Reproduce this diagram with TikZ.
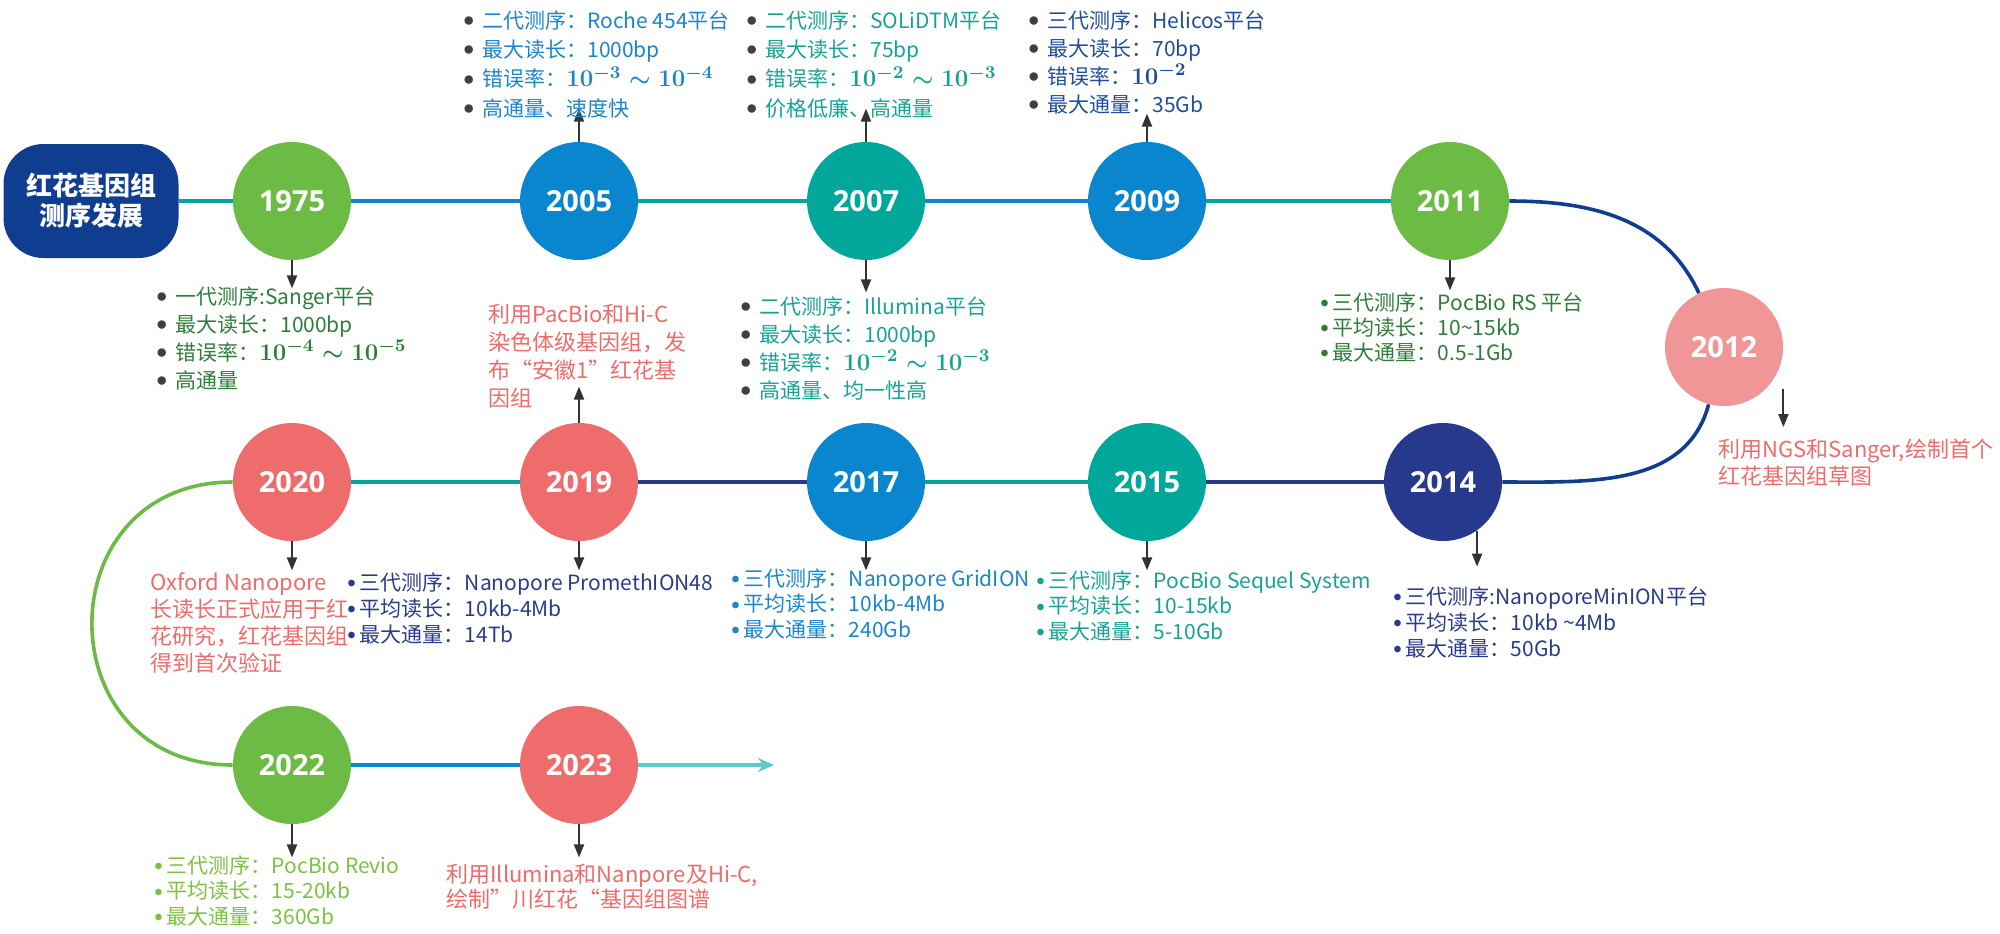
\documentclass[tikz,border=0pt]{standalone}
\usepackage[no-math]{fontspec}
\setmainfont{Noto Sans CJK SC}
\newfontfamily\yrfont{Open Sans}
\usepackage{xcolor}
\usetikzlibrary{arrows.meta,positioning}

% circle fills
\definecolor{lgreen}{HTML}{6CBB45}
\definecolor{sky}{HTML}{0A86CF}
\definecolor{seag}{HTML}{00A79A}
\definecolor{salmon}{HTML}{EE6C6C}
\definecolor{pinky}{HTML}{F19696}
\definecolor{navyb}{HTML}{26398C}
\definecolor{titleb}{HTML}{0F3E91}
\definecolor{lcyan}{HTML}{5CCACB}
% text colours
\definecolor{tgreen}{HTML}{2E7D3A}
\definecolor{tblue}{HTML}{1B86C8}
\definecolor{tteal}{HTML}{17A394}
\definecolor{tdblue}{HTML}{1F4E9B}
\definecolor{tnavy}{HTML}{2A3B8A}
\definecolor{tred}{HTML}{EE6B6B}
\definecolor{tlgreen}{HTML}{7DC142}

\newcommand{\bk}{\textcolor{black!75}{\raisebox{0.9pt}{$\bullet$}}\hspace{4pt}}
\newcommand{\bc}{\raisebox{1.2pt}{\fontsize{8.5}{8.5}\selectfont$\bullet$}\hspace{2pt}}
\newcommand{\er}[1]{{\fontsize{12.5}{14}\selectfont\boldmath$#1$}}

\begin{document}
\begin{tikzpicture}[x=0.5pt, y=-0.5pt,
  yr/.style={circle, minimum size=59pt, inner sep=0pt, text=white, font=\fontsize{14.5}{16}\yrfont\bfseries},
  ln/.style={line width=1.8pt},
  ar/.style={-{Triangle[length=6.5pt,width=5pt]}, line width=1pt, black!80},
  lst/.style={anchor=north west, align=left, inner sep=0pt, font=\fontsize{10.5}{14}\selectfont},
  rtx/.style={anchor=north west, align=left, inner sep=0pt, text=tred, font=\fontsize{11}{14}\selectfont}
]
\useasboundingbox (0,0) rectangle (2000,933);

\node[rounded corners=20pt, fill=titleb, minimum width=87.5pt, minimum height=57pt, text=white,
      align=center, font=\fontsize{13}{15}\selectfont\bfseries] (title) at (91,201) {红花基因组\\测序发展};

% year circles
\node[yr, fill=lgreen] (c1975) at (292,201) {1975};
\node[yr, fill=sky] (c2005) at (579,201) {2005};
\node[yr, fill=seag] (c2007) at (866,201) {2007};
\node[yr, fill=sky] (c2009) at (1147,201) {2009};
\node[yr, fill=lgreen] (c2011) at (1450,201) {2011};
\node[yr, fill=pinky] (c2012) at (1724,347) {2012};
\node[yr, fill=navyb] (c2014) at (1443,482) {2014};
\node[yr, fill=seag] (c2015) at (1147,482) {2015};
\node[yr, fill=sky] (c2017) at (866,482) {2017};
\node[yr, fill=salmon] (c2019) at (579,482) {2019};
\node[yr, fill=salmon] (c2020) at (292,482) {2020};
\node[yr, fill=lgreen] (c2022) at (292,765) {2022};
\node[yr, fill=salmon] (c2023) at (579,765) {2023};
\coordinate (tail) at (774,765);

% timeline
\draw[ln, seag] (title) -- (c1975);
\draw[ln, sky] (c1975) -- (c2005);
\draw[ln, seag] (c2005) -- (c2007);
\draw[ln, sky] (c2007) -- (c2009);
\draw[ln, seag] (c2009) -- (c2011);
\draw[ln, titleb] (c2011) to[out=0, in=115] (c2012);
\draw[ln, titleb] (c2012) to[out=-105, in=0] (c2014);
\draw[ln, navyb] (c2014) -- (c2015);
\draw[ln, seag] (c2015) -- (c2017);
\draw[ln, navyb] (c2017) -- (c2019);
\draw[ln, seag] (c2019) -- (c2020);
\draw[ln, lgreen] (c2020) to[out=180, in=180, looseness=1.7] (c2022);
\draw[ln, sky] (c2022) -- (c2023);
\draw[ln, lcyan, -{Stealth[length=8pt,width=7pt]}] (c2023) -- (tail);

% pointers
\coordinate[below=14pt of c1975] (d1975);
\coordinate[above=16.5pt of c2005] (u2005);
\coordinate[above=16.5pt of c2007] (u2007);
\coordinate[below=16pt of c2007] (d2007);
\coordinate[above=14pt of c2009] (u2009);
\coordinate[below=15pt of c2011] (d2011);
\coordinate (s2012) at ([yshift=-21pt]c2012.east);
\coordinate (d2012) at ([yshift=-40pt]c2012.east);
\coordinate (d2014) at ([yshift=-18pt]c2014.-55);
\coordinate[below=14.5pt of c2015] (d2015);
\coordinate[below=14.5pt of c2017] (d2017);
\coordinate[above=18pt of c2019] (u2019);
\coordinate[below=14.5pt of c2019] (d2019);
\coordinate[below=14.5pt of c2020] (d2020);
\coordinate[below=16.5pt of c2022] (d2022);
\coordinate[below=16.5pt of c2023] (d2023);
\draw[ar] (c1975) -- (d1975);
\draw[ar] (c2005) -- (u2005);
\draw[ar] (c2007) -- (u2007);
\draw[ar] (c2007) -- (d2007);
\draw[ar] (c2009) -- (u2009);
\draw[ar] (c2011) -- (d2011);
\draw[ar] (s2012) -- (d2012);
\draw[ar] (c2014.-55) -- (d2014);
\draw[ar] (c2015) -- (d2015);
\draw[ar] (c2017) -- (d2017);
\draw[ar] (c2019) -- (u2019);
\draw[ar] (c2019) -- (d2019);
\draw[ar] (c2020) -- (d2020);
\draw[ar] (c2022) -- (d2022);
\draw[ar] (c2023) -- (d2023);

% notes
\node[lst, text=tgreen] (t1975) at (156,286) {\bk 一代测序:Sanger平台\\\bk 最大读长：1000bp\\\bk 错误率：\er{10^{-4}\sim10^{-5}}\\\bk 高通量};
\node[lst, text=tblue, font=\fontsize{10.5}{14.7}\selectfont] (t2005) at (463,10) {\bk 二代测序：Roche 454平台\\\bk 最大读长：1000bp\\\bk 错误率：\er{10^{-3}\sim10^{-4}}\\\bk 高通量、速度快};
\node[lst, text=tteal, font=\fontsize{10.5}{14.7}\selectfont] (t2007a) at (746,10) {\bk 二代测序：SOLiDTM平台\\\bk 最大读长：75bp\\\bk 错误率：\er{10^{-2}\sim10^{-3}}\\\bk 价格低廉、高通量};
\node[lst, text=tdblue] (t2009) at (1028,10) {\bk 三代测序：Helicos平台\\\bk 最大读长：70bp\\\bk 错误率：\er{10^{-2}}\\\bk 最大通量：35Gb};
\node[lst, text=tteal] (t2007b) at (740,296) {\bk 二代测序：Illumina平台\\\bk 最大读长：1000bp\\\bk 错误率：\er{10^{-2}\sim10^{-3}}\\\bk 高通量、均一性高};
\node[rtx] (r2019) at (488,304) {利用PacBio和Hi-C\\染色体级基因组，发\\布“安徽1”红花基\\因组};
\node[lst, text=tgreen, font=\fontsize{10.5}{12.5}\selectfont] (t2011) at (1320,292) {\bc 三代测序：PocBio RS 平台\\\bc 平均读长：10\textasciitilde15kb\\\bc 最大通量：0.5-1Gb};
\node[rtx, font=\fontsize{11}{13.5}\selectfont] (r2012) at (1718,439) {利用NGS和Sanger,绘制首个\\红花基因组草图};
\node[rtx, font=\fontsize{11}{13.5}\selectfont] (r2020) at (150,572) {Oxford Nanopore\\长读长正式应用于红\\花研究，红花基因组\\得到首次验证};
\node[lst, text=tnavy, font=\fontsize{10.5}{13}\selectfont] (t2019) at (347,572) {\bc 三代测序：Nanopore PromethION48\\\bc 平均读长：10kb-4Mb\\\bc 最大通量：14Tb};
\node[lst, text=tblue, font=\fontsize{10.5}{12.75}\selectfont] (t2017) at (731,568) {\bc 三代测序：Nanopore GridION\\\bc 平均读长：10kb-4Mb\\\bc 最大通量：240Gb};
\node[lst, text=tteal, font=\fontsize{10.5}{12.75}\selectfont] (t2015) at (1036,570) {\bc 三代测序：PocBio Sequel System\\\bc 平均读长：10-15kb\\\bc 最大通量：5-10Gb};
\node[lst, text=tnavy, font=\fontsize{10.5}{13}\selectfont] (t2014) at (1393,586) {\bc 三代测序:NanoporeMinION平台\\\bc 平均读长：10kb \textasciitilde4Mb\\\bc 最大通量：50Gb};
\node[lst, text=tlgreen, font=\fontsize{10.5}{12.75}\selectfont] (t2022) at (154,855) {\bc 三代测序：PocBio Revio\\\bc 平均读长：15-20kb\\\bc 最大通量：360Gb};
\node[rtx, font=\fontsize{11}{12.5}\selectfont] (r2023) at (446,864) {利用Illumina和Nanpore及Hi-C,\\绘制"川红花“基因组图谱};
\end{tikzpicture}
\end{document}
